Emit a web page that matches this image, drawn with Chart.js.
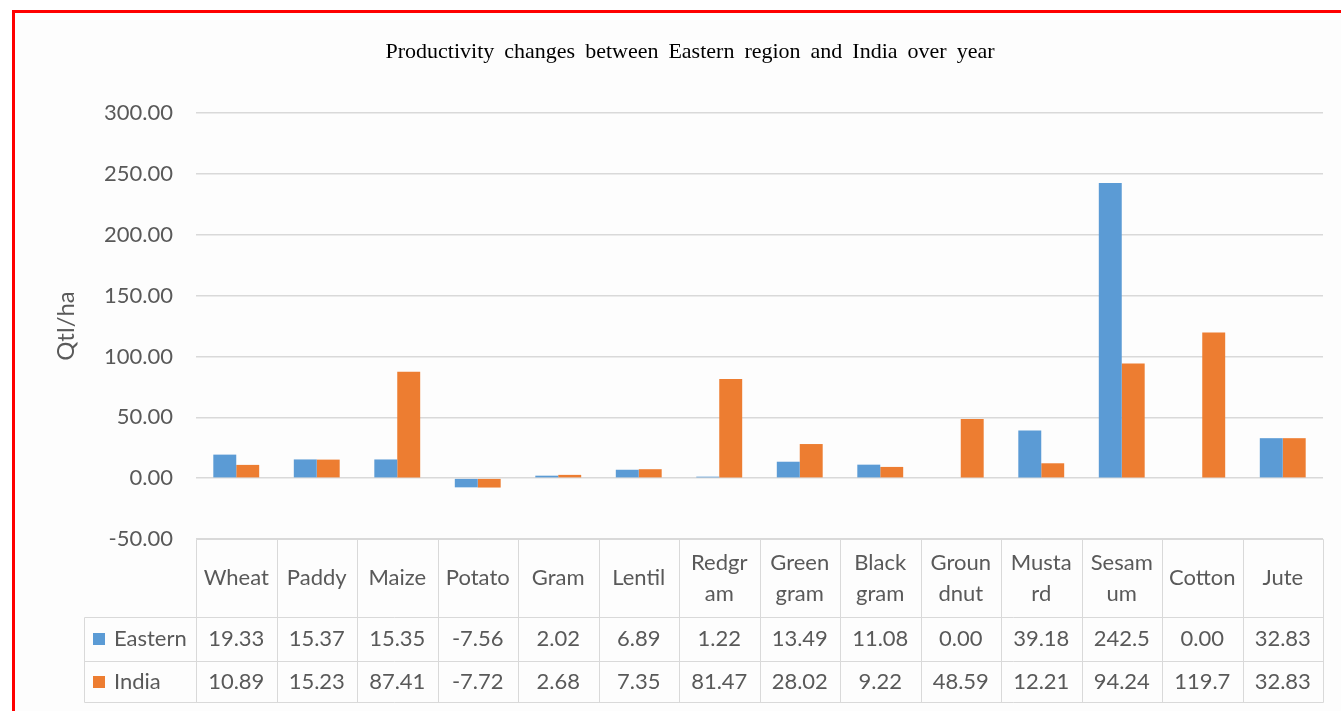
<!DOCTYPE html>
<html>
<head>
<meta charset="utf-8">
<script src="https://cdn.jsdelivr.net/npm/chart.js@4.4.1/dist/chart.umd.min.js"></script>
<style>
  html, body { margin: 0; padding: 0; background: #fff; overflow: hidden; }
  #frame { position: absolute; left: 12px; top: 10px; width: 1400px; height: 800px;
           border-left: 3px solid #f00; border-top: 3px solid #f00; background: #fdfdfd; }
  #wrap { position: absolute; left: 0; top: 0; width: 1341px; height: 711px; }
</style>
</head>
<body>
<div id="frame"></div>
<div id="wrap"><canvas id="chart" width="1341" height="711"></canvas></div>
<script>
// Crops (two-line entries wrap the same way the data table does)
const categories = ['Wheat', 'Paddy', 'Maize', 'Potato', 'Gram', 'Lentil',
  ['Redgr', 'am'], ['Green', 'gram'], ['Black', 'gram'], ['Groun', 'dnut'],
  ['Musta', 'rd'], ['Sesam', 'um'], 'Cotton', 'Jute'];

// Productivity change, Qtl/ha
const eastern = [19.33, 15.37, 15.35, -7.56, 2.02, 6.89, 1.22, 13.49, 11.08, 0.00, 39.18, 242.5, 0.00, 32.83];
const india   = [10.89, 15.23, 87.41, -7.72, 2.68, 7.35, 81.47, 28.02, 9.22, 48.59, 12.21, 94.24, 119.7, 32.83];

const seriesNames = ['Eastern', 'India'];
const yTicks = [-50, 0, 50, 100, 150, 200, 250, 300];
const chartTitle = 'Productivity changes between Eastern region and India over year';

const BLUE = '#5B9BD5';
const ORANGE = '#ED7D31';
const TEXT = '#595959';
const GRID = '#d9d9d9';
const SANS = 'Lato';

// Table cells show at most four significant digits
function fmt(v) {
  return Math.abs(v) >= 100 ? v.toFixed(1) : v.toFixed(2);
}

// Serif heading with the wide word gaps of the original layout
const heading = {
  id: 'heading',
  afterDraw(chart) {
    const { ctx } = chart;
    ctx.save();
    ctx.font = '22px "Liberation Serif"';
    ctx.fillStyle = '#000';
    ctx.textAlign = 'center';
    ctx.textBaseline = 'middle';
    ctx.wordSpacing = '4.5px';
    ctx.fillText(chartTitle, 690, 52);
    ctx.restore();
  }
};

// Data table drawn under the plot, one column per category
const dataTable = {
  id: 'dataTable',
  afterDraw(chart) {
    const { ctx, chartArea, scales: { x } } = chart;
    const n = categories.length;
    const left = chartArea.left, right = chartArea.right;
    const colW = (right - left) / n;
    const top = chartArea.bottom;
    const rows = [top, top + 78, top + 122, top + 163];
    const legLeft = 84;

    ctx.save();
    ctx.strokeStyle = GRID;
    ctx.lineWidth = 1;
    const line = (x1, y1, x2, y2) => {
      ctx.beginPath();
      ctx.moveTo(Math.round(x1) + 0.5, Math.round(y1) + 0.5);
      ctx.lineTo(Math.round(x2) + 0.5, Math.round(y2) + 0.5);
      ctx.stroke();
    };
    line(left, rows[0], right, rows[0]);
    for (let r = 1; r < rows.length; r++) line(legLeft, rows[r], right, rows[r]);
    for (let i = 0; i <= n; i++) line(left + i * colW, rows[0], left + i * colW, rows[3]);
    line(legLeft, rows[1], legLeft, rows[3]);

    ctx.fillStyle = TEXT;
    ctx.font = '22px ' + SANS;
    ctx.textAlign = 'center';
    ctx.textBaseline = 'middle';

    const headY = (rows[0] + rows[1]) / 2;
    categories.forEach((c, i) => {
      const cx = x.getPixelForValue(i);
      const parts = Array.isArray(c) ? c : [c];
      parts.forEach((t, j) => {
        ctx.fillText(t, cx, headY + (j - (parts.length - 1) / 2) * 31);
      });
    });

    chart.data.datasets.forEach((ds, k) => {
      const cy = (rows[k + 1] + rows[k + 2]) / 2;
      ctx.textAlign = 'center';
      ctx.fillStyle = TEXT;
      ds.data.forEach((v, i) => ctx.fillText(fmt(v), x.getPixelForValue(i), cy));
      ctx.fillStyle = ds.backgroundColor;
      ctx.fillRect(93, Math.round(cy - 6), 12, 12);
      ctx.fillStyle = TEXT;
      ctx.textAlign = 'left';
      ctx.fillText(ds.label, 114, cy);
    });
    ctx.restore();
  }
};

new Chart(document.getElementById('chart'), {
  type: 'bar',
  data: {
    labels: categories,
    datasets: [
      { label: seriesNames[0], data: eastern, backgroundColor: BLUE },
      { label: seriesNames[1], data: india, backgroundColor: ORANGE }
    ]
  },
  options: {
    responsive: false,
    animation: false,
    devicePixelRatio: 1,
    datasets: { bar: { categoryPercentage: 0.57, barPercentage: 1 } },
    layout: { padding: { left: 14, right: 18, top: 113, bottom: 172 } },
    plugins: {
      legend: { display: false },
      tooltip: { enabled: false },
      title: { display: false }
    },
    scales: {
      x: { display: false },
      y: {
        min: -50,
        max: 300,
        afterBuildTicks(scale) { scale.ticks = yTicks.map(v => ({ value: v })); },
        afterFit(scale) { scale.width = 182; },
        ticks: {
          color: TEXT,
          font: { family: SANS, size: 22 },
          padding: 23,
          callback: v => Number(v).toFixed(2)
        },
        grid: { color: GRID, lineWidth: 1.5, drawTicks: false },
        border: { display: false },
        title: {
          display: true,
          text: 'Qtl/ha',
          color: TEXT,
          font: { family: SANS, size: 24 },
          padding: { top: 38, bottom: 0 }
        }
      }
    }
  },
  plugins: [dataTable, heading]
});
</script>
</body>
</html>
